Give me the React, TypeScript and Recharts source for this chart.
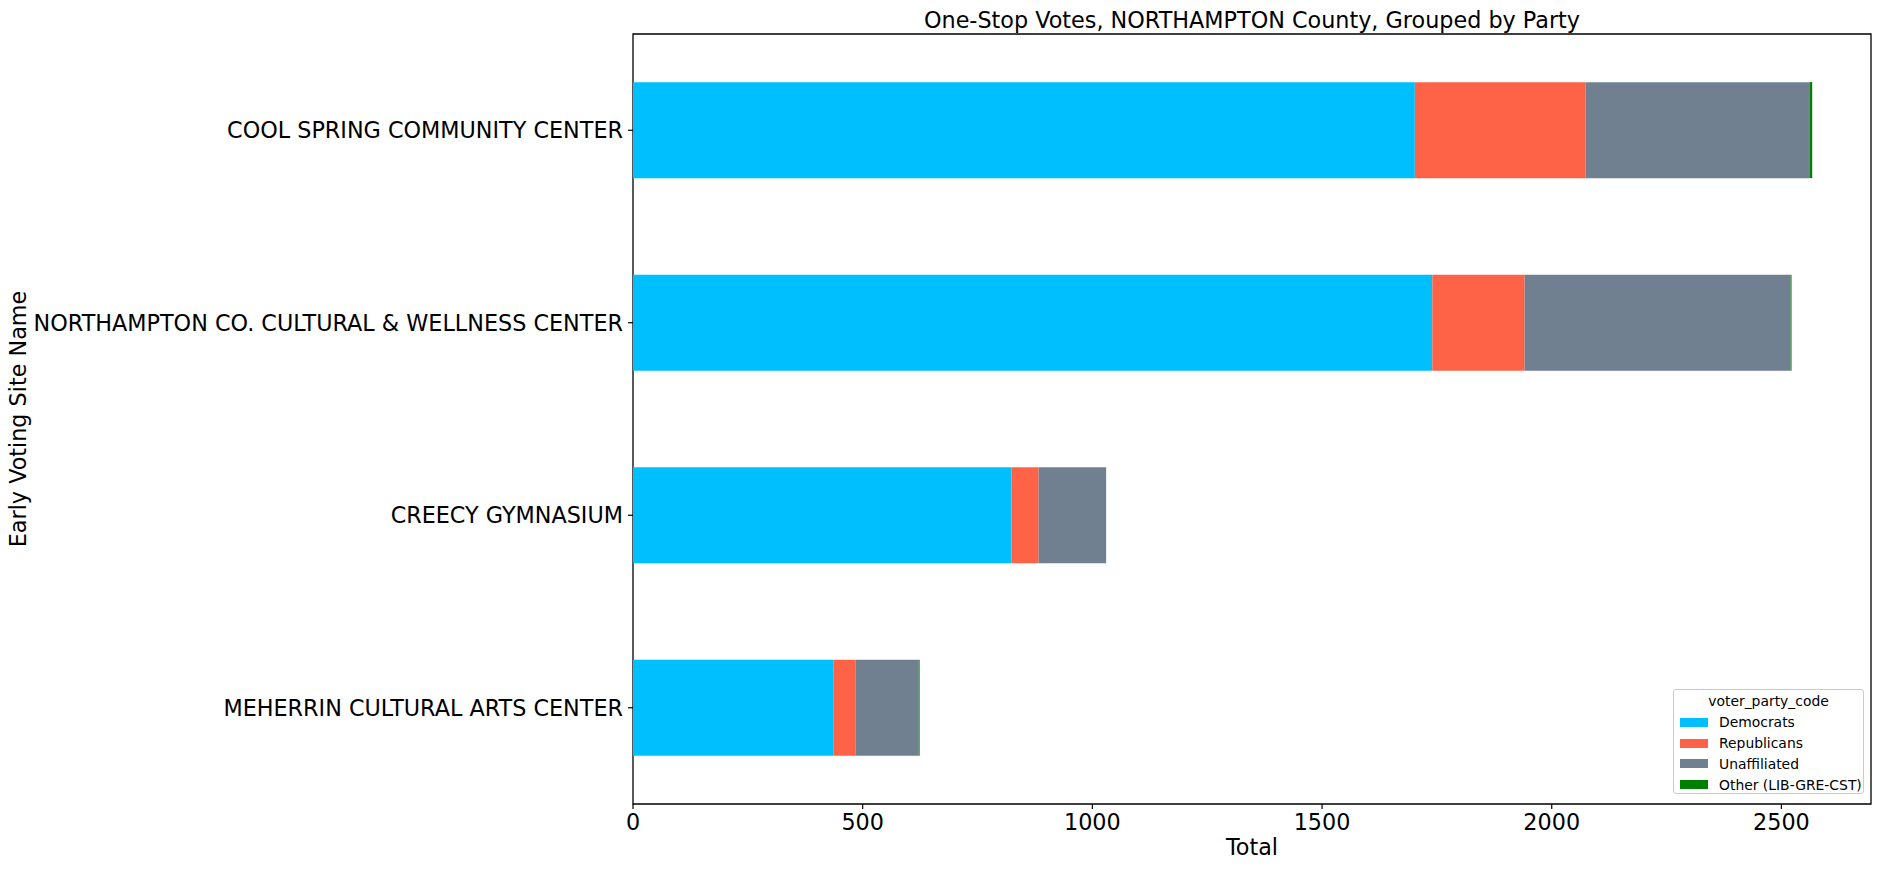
import React from 'react';
import { BarChart, Bar, XAxis, YAxis, ReferenceArea } from 'recharts';

// site names, top to bottom as drawn
const sites = [
    'COOL SPRING COMMUNITY CENTER',
    'NORTHAMPTON CO. CULTURAL & WELLNESS CENTER',
    'CREECY GYMNASIUM',
    'MEHERRIN CULTURAL ARTS CENTER',
];

const democrats = [1702, 1740, 824, 437];
const republicans = [372, 201, 59, 48];
const unaffiliated = [487, 579, 147, 137];
const other = [6, 2, 0, 2];

const xTicks = [0, 500, 1000, 1500, 2000, 2500];
const xMax = 2695;

const SERIES = [
    { key: 'Democrats', color: '#00BFFF' },
    { key: 'Republicans', color: '#FF6347' },
    { key: 'Unaffiliated', color: '#708090' },
    { key: 'Other (LIB-GRE-CST)', color: '#008000' },
];

const FONT = '"DejaVu Sans", sans-serif';
const FS = 22.3;

const chartData = sites.map((name, i) => ({
    name,
    Democrats: democrats[i],
    Republicans: republicans[i],
    Unaffiliated: unaffiliated[i],
    'Other (LIB-GRE-CST)': other[i],
}));

// rotated y axis label
const YLabel = ({ viewBox }: any) => {
    const cx = viewBox.x + 18;
    const cy = viewBox.y + viewBox.height / 2;
    return (
        <text
            x={cx}
            y={cy}
            transform={`rotate(-90, ${cx}, ${cy})`}
            textAnchor="middle"
            dominantBaseline="central"
            fontSize={FS}
            fontFamily={FONT}
            fill="#000"
        >
            Early Voting Site Name
        </text>
    );
};

const LegendBox = () => (
    <div
        style={{
            position: 'absolute',
            left: 1673,
            top: 689,
            width: 191,
            height: 105,
            border: '1px solid #cccccc',
            borderRadius: 3,
            background: 'rgba(255,255,255,0.8)',
            fontFamily: FONT,
            fontSize: 13.9,
            color: '#000',
            boxSizing: 'border-box',
        }}
    >
        <div style={{ textAlign: 'center', lineHeight: '21px', marginTop: 1 }}>voter_party_code</div>
        {SERIES.map((s) => (
            <div key={s.key} style={{ display: 'flex', alignItems: 'center', height: 20.8, paddingLeft: 6 }}>
                <div style={{ width: 28, height: 9, background: s.color, marginRight: 11 }} />
                <span>{s.key}</span>
            </div>
        ))}
    </div>
);

export default function App() {
    return (
        <div style={{ position: 'absolute', left: 0, top: 0, width: 1882, height: 869, background: '#fff' }}>
            <div
                style={{
                    position: 'absolute',
                    left: 633,
                    width: 1238,
                    top: 7,
                    textAlign: 'center',
                    fontFamily: FONT,
                    fontSize: FS,
                    lineHeight: '26px',
                    color: '#000',
                }}
            >
                One-Stop Votes, NORTHAMPTON County, Grouped by Party
            </div>
            <BarChart
                width={1882}
                height={869}
                data={chartData}
                layout="vertical"
                margin={{ top: 34, right: 11, left: 0, bottom: 0 }}
                barCategoryGap="25%"
            >
                <XAxis
                    type="number"
                    domain={[0, xMax]}
                    ticks={xTicks}
                    allowDataOverflow
                    height={65}
                    tickSize={5}
                    tickMargin={5}
                    tick={{ fill: '#000', fontSize: FS, fontFamily: FONT }}
                    tickLine={{ stroke: '#000', strokeWidth: 1.2 }}
                    axisLine={false}
                    label={{ value: 'Total', position: 'insideBottom', offset: 14, fontSize: FS, fontFamily: FONT, fill: '#000' }}
                />
                <YAxis
                    type="category"
                    dataKey="name"
                    width={633}
                    tickSize={5}
                    tickMargin={5}
                    tick={{ fill: '#000', fontSize: FS, fontFamily: FONT }}
                    tickLine={{ stroke: '#000', strokeWidth: 1.2 }}
                    axisLine={false}
                    label={<YLabel />}
                />
                {SERIES.map((s) => (
                    <Bar key={s.key} dataKey={s.key} stackId="a" fill={s.color} isAnimationActive={false} />
                ))}
                <ReferenceArea
                    x1={0}
                    x2={xMax}
                    fill="none"
                    fillOpacity={0}
                    stroke="#000"
                    strokeWidth={1.3}
                    ifOverflow="visible"
                />
            </BarChart>
            <LegendBox />
        </div>
    );
}
